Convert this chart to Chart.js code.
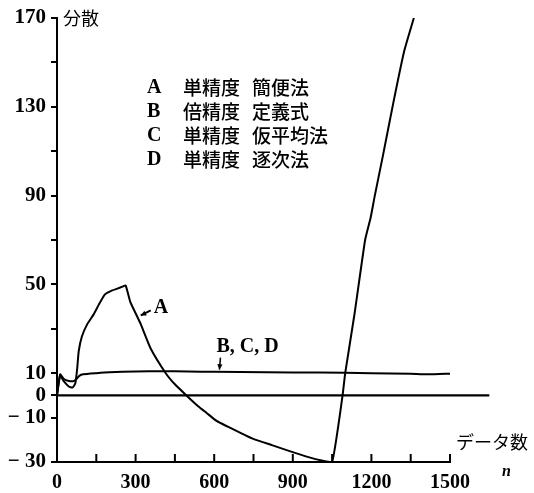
<!DOCTYPE html>
<html>
<head>
<meta charset="utf-8">
<script src="https://cdn.jsdelivr.net/npm/chart.js@4/dist/chart.umd.min.js"></script>
<style>
    body { margin: 0; background: #fff; }
</style>
</head>
<body>
<canvas id="chart" width="534" height="493"></canvas>
<script>
// curve A (single precision, simple method)
const aX = [0, 12, 25, 45, 60, 70, 77, 83, 95, 115, 140, 160, 183, 205, 228, 250, 262, 280, 300, 320, 358, 415, 450, 494, 540, 572, 609, 650, 685, 747, 823, 885, 960, 1010, 1050, 1090, 1100, 1136, 1176, 1197, 1213, 1244, 1284, 1325, 1362];
const aY = [0, 9, 6.5, 4, 3.6, 5.5, 12, 20, 26.5, 32, 36.5, 41, 45.5, 47, 48, 49, 49.5, 42, 37, 32, 21, 10, 5, 0, -5, -8, -11.5, -14, -16, -19.5, -22.5, -25, -27.8, -29.3, -30, 0, 10, 37, 70, 80, 90, 108, 132, 155, 170];

// curves B, C, D (they overlap)
const bcdX = [0, 12, 25, 45, 65, 75, 85, 100, 150, 200, 300, 400, 500, 600, 800, 1000, 1200, 1350, 1420, 1500];
const bcdY = [0, 9.5, 7.5, 6.5, 6.5, 7.5, 8.8, 9.5, 10, 10.4, 10.8, 10.9, 10.8, 10.6, 10.4, 10.3, 10, 9.7, 9.5, 9.8];

// zero line
const zeroX = [0, 1650];
const zeroY = [0, 0];

// axes
const xTicks = [0, 150, 300, 450, 600, 750, 900, 1050, 1200, 1350, 1500];
const xLabels = [0, 300, 600, 900, 1200, 1500];
const yTicks = [-30, -10, 0, 10, 30, 50, 70, 90, 110, 130, 150, 170];
const yLabels = [-30, -10, 0, 10, 50, 90, 130, 170];

const legendLines = [
    ['A', '単精度', '簡便法'],
    ['B', '倍精度', '定義式'],
    ['C', '単精度', '仮平均法'],
    ['D', '単精度', '逐次法']
];

const pts = (xs, ys) => xs.map((x, i) => ({ x, y: ys[i] }));
const serif = 'bold 20px "Liberation Serif", "DejaVu Serif", serif';
const cjk = '"Noto Sans CJK JP", sans-serif';

const arrow = (ctx, x1, y1, x2, y2) => {
    ctx.beginPath();
    ctx.moveTo(x1, y1);
    ctx.lineTo(x2, y2);
    ctx.stroke();
    const a = Math.atan2(y2 - y1, x2 - x1);
    ctx.beginPath();
    ctx.moveTo(x2, y2);
    ctx.lineTo(x2 - 6 * Math.cos(a - 0.45), y2 - 6 * Math.sin(a - 0.45));
    ctx.lineTo(x2 - 6 * Math.cos(a + 0.45), y2 - 6 * Math.sin(a + 0.45));
    ctx.closePath();
    ctx.fill();
};

const annotations = {
    id: 'annotations',
    afterDraw(chart) {
        const { ctx, scales: { x, y }, chartArea } = chart;
        ctx.save();
        ctx.strokeStyle = '#000';
        ctx.fillStyle = '#000';
        ctx.lineWidth = 2;

        // x ticks point up into the plot
        xTicks.forEach(v => {
            const px = x.getPixelForValue(v);
            ctx.beginPath();
            ctx.moveTo(px, chartArea.bottom);
            ctx.lineTo(px, chartArea.bottom - 8);
            ctx.stroke();
        });

        // axis titles
        ctx.textBaseline = 'middle';
        ctx.textAlign = 'left';
        ctx.font = '18px ' + cjk;
        ctx.fillText('分散', x.getPixelForValue(0) + 6, y.getPixelForValue(170));
        ctx.fillText('データ数', chartArea.right + 6, y.getPixelForValue(-21));
        ctx.font = 'italic bold 16px "Liberation Serif", serif';
        ctx.fillText('n', chartArea.right + 52, chartArea.bottom + 10);

        // legend text block
        legendLines.forEach((row, i) => {
            const ty = 88 + i * 24;
            ctx.font = serif;
            ctx.fillText(row[0], 147, ty);
            ctx.font = '500 19px ' + cjk;
            ctx.fillText(row[1], 183, ty);
            ctx.fillText(row[2], 252, ty);
        });

        // curve labels
        ctx.font = serif;
        const ax = x.getPixelForValue(312), ay = y.getPixelForValue(36);
        arrow(ctx, ax + 12, ay - 5, ax + 2, ay);
        ctx.fillText('A', ax + 15, ay - 8);

        const bx = x.getPixelForValue(620), by = y.getPixelForValue(10.7);
        ctx.lineWidth = 1.5;
        arrow(ctx, bx + 1, by - 14, bx, by - 2);
        ctx.fillText('B, C, D', bx - 3, by - 25);
        ctx.restore();
    }
};

const lineStyle = {
    borderColor: '#000',
    borderWidth: 2,
    pointRadius: 0,
    fill: false,
    tension: 0.15,
    clip: false
};

new Chart(document.getElementById('chart'), {
    type: 'line',
    data: {
        datasets: [
            { label: 'A', data: pts(aX, aY), ...lineStyle },
            { label: 'B,C,D', data: pts(bcdX, bcdY), ...lineStyle },
            { label: '0', data: pts(zeroX, zeroY), ...lineStyle, borderWidth: 2.2 }
        ]
    },
    options: {
        responsive: false,
        animation: false,
        layout: { padding: { top: 18, right: 84, left: 0, bottom: 0 } },
        plugins: { legend: { display: false }, tooltip: { enabled: false } },
        scales: {
            x: {
                type: 'linear',
                min: 0,
                max: 1500,
                afterBuildTicks: s => { s.ticks = xTicks.map(v => ({ value: v })); },
                afterFit: s => { s.height = 31; },
                border: { color: '#000', width: 2 },
                grid: { display: true, drawOnChartArea: false, drawTicks: false },
                ticks: {
                    autoSkip: false,
                    maxRotation: 0,
                    padding: 9,
                    color: '#000',
                    font: { family: '"Liberation Serif", serif', size: 20, weight: 'bold' },
                    callback: v => xLabels.includes(v) ? String(v) : ''
                }
            },
            y: {
                type: 'linear',
                min: -30,
                max: 170,
                afterBuildTicks: s => { s.ticks = yTicks.map(v => ({ value: v })); },
                afterFit: s => { s.width = 57; },
                border: { color: '#000', width: 2 },
                grid: { drawOnChartArea: false, color: '#000', lineWidth: 2, tickLength: 6 },
                ticks: {
                    autoSkip: false,
                    padding: 5,
                    color: '#000',
                    font: { family: '"Liberation Serif", serif', size: 21, weight: 'bold' },
                    callback: v => yLabels.includes(v) ? (v < 0 ? '\u2212 ' + Math.abs(v) : String(v)) : ''
                }
            }
        }
    },
    plugins: [annotations]
});
</script>
</body>
</html>
